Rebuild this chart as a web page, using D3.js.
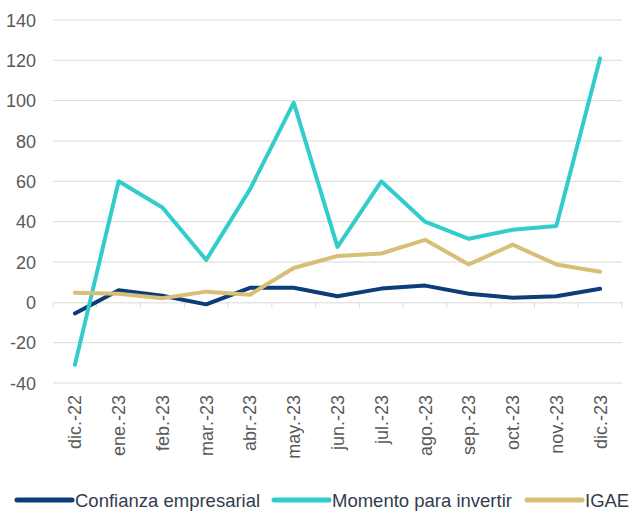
<!DOCTYPE html>
<html lang="es">
<head>
  <meta charset="utf-8">
  <title>Confianza empresarial, momento para invertir e IGAE</title>
  <script src="https://d3js.org/d3.v7.min.js"></script>
  <style>
    body {
      margin: 0;
      background: #fff;
      font-family: "Liberation Sans", Arial, sans-serif;
    }
  </style>
</head>
<body>
  <script>
    // datos
    var months = ["dic.-22","ene.-23","feb.-23","mar.-23","abr.-23","may.-23","jun.-23",
                  "jul.-23","ago.-23","sep.-23","oct.-23","nov.-23","dic.-23"];
    var confianza = [-5.5, 6, 3.3, -1, 7.2, 7.2, 3, 6.8, 8.3, 4.3, 2.3, 3, 6.7];
    var momento = [-31, 60, 47, 21, 56, 99, 27.5, 60, 40, 31.5, 36, 37.8, 121];
    var igae = [4.8, 4.3, 2, 5.3, 3.8, 17, 23, 24.2, 31, 18.8, 28.6, 18.8, 15.2];
    var yTicks = [-40, -20, 0, 20, 40, 60, 80, 100, 120, 140];

    var series = [
      { name: "Confianza empresarial", values: confianza, color: "#0c3d78" },
      { name: "Momento para invertir", values: momento, color: "#33cccc" },
      { name: "IGAE", values: igae, color: "#d8be76" }
    ];

    var width = 630, height = 511;
    var plotLeft = 53, plotRight = 622, plotTop = 20, plotBottom = 383;

    var svg = d3.select("body").append("svg")
      .attr("width", width)
      .attr("height", height);

    var x = d3.scaleBand().domain(months).range([plotLeft, plotRight]);
    var y = d3.scaleLinear().domain([-40, 140]).range([plotBottom, plotTop]);

    // lineas de cuadricula
    svg.append("g")
      .selectAll("line")
      .data(yTicks.filter(function(d) { return d != 0; }))
      .enter().append("line")
      .attr("x1", plotLeft).attr("x2", plotRight)
      .attr("y1", function(d) { return y(d); })
      .attr("y2", function(d) { return y(d); })
      .attr("stroke", "#d9d9d9")
      .attr("stroke-width", 1);

    // etiquetas eje y
    svg.append("g")
      .selectAll("text")
      .data(yTicks)
      .enter().append("text")
      .attr("x", 36)
      .attr("y", function(d) { return y(d) + 6.5; })
      .attr("text-anchor", "end")
      .attr("font-size", "18px")
      .attr("fill", "#595959")
      .text(function(d) { return d; });

    // eje x en cero
    var xAxis = d3.axisBottom(x).tickSize(0).tickFormat("");
    var gx = svg.append("g")
      .attr("transform", "translate(0," + y(0) + ")")
      .call(xAxis);
    gx.select(".domain").attr("stroke", "#d9d9d9");
    gx.selectAll(".tick").remove();
    gx.selectAll(".sep")
      .data(months.concat(["end"]))
      .enter().append("line")
      .attr("class", "sep")
      .attr("x1", function(d, i) { return plotLeft + i * x.step(); })
      .attr("x2", function(d, i) { return plotLeft + i * x.step(); })
      .attr("y1", 0).attr("y2", 5)
      .attr("stroke", "#d9d9d9");

    // etiquetas de meses
    svg.append("g")
      .selectAll("text")
      .data(months)
      .enter().append("text")
      .attr("transform", function(d) {
        return "translate(" + (x(d) + x.bandwidth() / 2 + 6.5) + ",395) rotate(-90)";
      })
      .attr("text-anchor", "end")
      .attr("font-size", "18px")
      .attr("fill", "#595959")
      .text(function(d) { return d; });

    // lineas de series
    var line = d3.line()
      .x(function(d, i) { return x(months[i]) + x.bandwidth() / 2; })
      .y(function(d) { return y(d); });

    svg.append("g")
      .selectAll("path")
      .data(series)
      .enter().append("path")
      .attr("d", function(d) { return line(d.values); })
      .attr("fill", "none")
      .attr("stroke", function(d) { return d.color; })
      .attr("stroke-width", 4)
      .attr("stroke-linejoin", "round")
      .attr("stroke-linecap", "round");

    // leyenda
    var legendX = [17, 274, 527];
    var lg = svg.append("g")
      .selectAll("g")
      .data(series)
      .enter().append("g")
      .attr("transform", function(d, i) { return "translate(" + legendX[i] + ",500)"; });
    lg.append("line")
      .attr("x1", 0).attr("x2", 55)
      .attr("y1", 0).attr("y2", 0)
      .attr("stroke", function(d) { return d.color; })
      .attr("stroke-width", 5)
      .attr("stroke-linecap", "round");
    lg.append("text")
      .attr("x", 58)
      .attr("y", 6.5)
      .attr("font-size", "18.5px")
      .attr("fill", "#333b4f")
      .text(function(d) { return d.name; });
  </script>
</body>
</html>
